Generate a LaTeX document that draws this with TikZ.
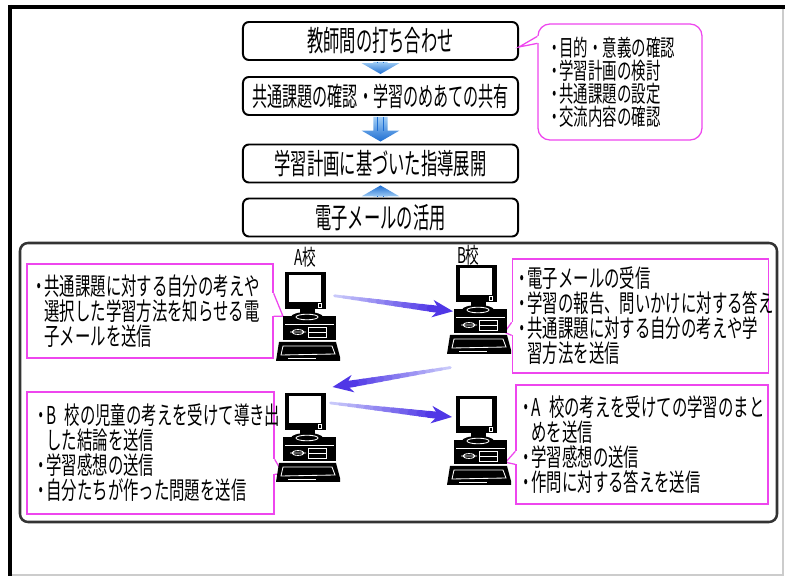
\documentclass[tikz,border=0pt]{standalone}
\usepackage{fontspec}
\newfontfamily\jpflow[FakeStretch=0.565]{Noto Sans CJK JP}
\newfontfamily\jpnote[FakeStretch=0.625]{Noto Sans CJK JP}
\usetikzlibrary{calc}

\definecolor{notepink}{RGB}{238,70,238}
\definecolor{flowpale}{RGB}{160,205,245}
\definecolor{flowdeep}{RGB}{30,110,210}
\definecolor{mailpale}{RGB}{200,200,250}
\definecolor{maildeep}{RGB}{80,55,230}

% bullet and hanging indent for the note texts
\newcommand{\itm}{\makebox[7.5pt]{・}}
\newcommand{\cont}{\hspace*{7.5pt}}

\tikzset{
  flowbox/.style={draw, line width=1.4pt, rounded corners=0.15cm, fill=white,
    minimum width=6.875cm, minimum height=0.95cm,
    font=\jpflow\fontsize{20.5}{23}\selectfont},
  note/.style={draw=notepink, line width=0.9pt, fill=white, align=left,
    font=\jpnote\fontsize{17.5}{17.8}\selectfont},
  wedge/.style={draw=notepink, line width=0.9pt},
  panel/.style={draw=black!80, line width=1.8pt, rounded corners=0.2cm},
  pcbox/.style={minimum width=1.6cm, minimum height=2.275cm, inner sep=0pt},
  pclabel/.style={font=\jpnote\fontsize{15.5}{17}\selectfont, inner sep=0pt},
  % desktop computer, drawn from its top left corner
  pics/computer/.style={code={
    \fill (9,2) rectangle (50,39);
    \fill[white] (13,5) rectangle (45,32);
    \draw[white, line width=0.5pt] (42,33.5) rectangle (45.5,37);
    \fill (24,38) rectangle (39,45);
    \fill (7,46) rectangle (60,70);
    \fill (31,47) ellipse (16 and 5);
    \draw[white, line width=0.6pt] (31,47) ellipse (11 and 2.8);
    \draw[white, line width=0.6pt] (9,54) -- (58,54);
    \draw[white, line width=0.6pt] (22,62) ellipse (6 and 2.4) (14,62) -- (30,62);
    \draw[white, line width=0.6pt] (32,57) rectangle (50,67) (32,62) -- (50,62);
    \fill (3,72) -- (60,72) -- (64,87) -- (64,91) -- (0,91) -- cycle;
    \draw[white, line width=0.6pt] (7,76) -- (56,76) -- (59,84) -- (5,85) -- cycle;
    \draw[white, line width=0.6pt] (12,88) -- (40,88);
  }},
}

\begin{document}
\begin{tikzpicture}[x=0.025cm, y=-0.025cm]
    \useasboundingbox (0,0) rectangle (785,576);

    % page frame
    \draw[line width=2.8pt] (8,7) -- (785,7);
    \draw[line width=2.8pt] (10,5) -- (10,576);
    \draw[gray!40, line width=0.8pt] (783,9) -- (783,576) (12,575) -- (783,575);

    % flow of the lesson
    \node[flowbox] (meet) at (380.5,41) {教師間の打ち合わせ};
    \node[flowbox, font=\jpflow\fontsize{19}{22}\selectfont] (share) at (380.5,96)
        {共通課題の確認・学習のめあての共有};
    \node[flowbox] (plan) at (380.5,163.5) {学習計画に基づいた指導展開};
    \node[flowbox] (mail) at (380.5,217.5) {電子メールの活用};

    \foreach \from/\to/\ctop/\cbot in {meet.south/share.north/flowpale/flowdeep,
        share.south/plan.north/flowpale/flowdeep, mail.north/plan.south/flowdeep/flowpale} {
        \shade[top color=\ctop, bottom color=\cbot]
            let \p1=(\from), \p2=(\to), \n1={sign(\y2-\y1)} in
            (\x1-5pt,{\y1+\n1*0.7pt}) -- (\x1-5pt,{\y2-\n1*9.2pt})
            -- (\x1-13.5pt,{\y2-\n1*9.2pt}) -- (\x1,{\y2-\n1*1.4pt})
            -- (\x1+13.5pt,{\y2-\n1*9.2pt}) -- (\x1+5pt,{\y2-\n1*9.2pt})
            -- (\x1+5pt,{\y1+\n1*0.7pt}) -- cycle;
        \draw[flowdeep, line width=1pt]
            let \p1=(\from), \p2=(\to), \n1={sign(\y2-\y1)} in
            (\x1-2pt,{\y1+\n1*0.7pt}) -- (\x1-2pt,{\y2-\n1*9.2pt})
            (\x1+2pt,{\y1+\n1*0.7pt}) -- (\x1+2pt,{\y2-\n1*9.2pt});
    }

    \node[note, rounded corners=0.3cm, minimum width=4.1cm, minimum height=2.9cm,
        text width=3.55cm, font=\jpnote\fontsize{16.4}{16.4}\selectfont] (purpose) at (620,82)
        {\itm 目的・意義の確認\\ \itm 学習計画の検討\\ \itm 共通課題の設定\\ \itm 交流内容の確認};

    % exchange between the two schools
    \draw[panel] (20,243) rectangle (777,522);

    \node[note, minimum width=6.15cm, minimum height=2.35cm, text width=5.8cm] (noteA1) at (150,311)
        {\itm 共通課題に対する自分の考えや\\ \cont 選択した学習方法を知らせる電\\ \cont 子メールを送信};
    \node[note, minimum width=6.175cm, minimum height=3.05cm, text width=5.725cm] (noteA2) at (150.5,453)
        {\itm B~校の児童の考えを受けて導き出\\ \cont した結論を送信\\ \itm 学習感想の送信\\ \itm 自分たちが作った問題を送信};
    \node[note, minimum width=6.325cm, minimum height=2.85cm, text width=6.175cm] (noteB1) at (640.5,316)
        {\itm 電子メールの受信\\ \itm 学習の報告、問いかけに対する答え\\ \itm 共通課題に対する自分の考えや学\\ \cont 習方法を送信};
    \node[note, minimum width=6.3cm, minimum height=2.975cm, text width=6.05cm] (noteB2) at (642,444.5)
        {\itm A~校の考えを受けての学習のまと\\ \cont めを送信\\ \itm 学習感想の送信\\ \itm 作問に対する答えを送信};

    \foreach \n/\x/\y in {pcA1/276/270, pcB1/447/263, pcA2/276/391, pcB2/447/394} {
        \node[pcbox, anchor=north west] (\n) at (\x,\y) {};
    }

    \coordinate (tipM) at ($(meet.east)+(0,6)$);
    \coordinate (tipA1) at ($(pcA1.west)+(7,0.5)$);
    \coordinate (tipA2) at ($(pcA2.south west)+(7,-9)$);
    \coordinate (tipB1) at ($(pcB1.east)+(-7,23.5)$);
    \coordinate (tipB2) at ($(pcB2.east)+(-6,22.5)$);

    % pointers of the notes
    \foreach \n/\c/\a/\b/\t in {purpose/north west/13/20/tipM, noteA1/north east/30/53/tipA1,
        noteA2/north east/68/83/tipA2, noteB1/north west/64/77/tipB1, noteB2/north west/67/80/tipB2} {
        \draw[white, line width=2pt] ($(\n.\c)+(0,\a)$) -- ($(\n.\c)+(0,\b)$);
        \draw[wedge] ($(\n.\c)+(0,\a)$) -- (\t) -- ($(\n.\c)+(0,\b)$);
    }

    \foreach \n in {pcA1, pcB1, pcA2, pcB2} {
        \pic at (\n.north west) {computer};
    }

    \node[pclabel] (labA) at ($(pcA1.north)+(-3,-13)$) {A校};
    \node[pclabel] (labB) at ($(pcB1.north)+(-11,-8)$) {B校};

    % e-mail arrows, pale at the sender
    \coordinate (tA1) at ($(pcA1.east)+(-6,-20)$);
    \coordinate (hB1) at ($(pcB1.west)+(6,2.5)$);
    \coordinate (tB1) at ($(pcB1.south)+(-29,13)$);
    \coordinate (hA2) at ($(pcA2.north east)+(-8,-4)$);
    \coordinate (tA2) at ($(pcA2.north east)+(-10,12)$);
    \coordinate (hB2) at ($(pcB2.north west)+(5,23)$);

    \foreach \s/\e in {tA1/hB1, tB1/hA2, tA2/hB2} {
        \foreach \i in {0,...,11} {
            \pgfmathtruncatemacro{\mix}{9*\i}
            \pgfmathsetmacro{\segw}{2+0.27*\i}
            \draw[line width=\segw pt, line cap=round, maildeep!\mix!mailpale]
                ($(\s)!{0.88*\i/12}!(\e)$) -- ($(\s)!{0.88*(\i+1)/12}!(\e)$);
        }
        \fill[maildeep] (\e) -- ($(\e)!16pt!23:(\s)$) -- ($(\e)!10pt!(\s)$)
            -- ($(\e)!16pt!-23:(\s)$) -- cycle;
    }
\end{tikzpicture}
\end{document}
